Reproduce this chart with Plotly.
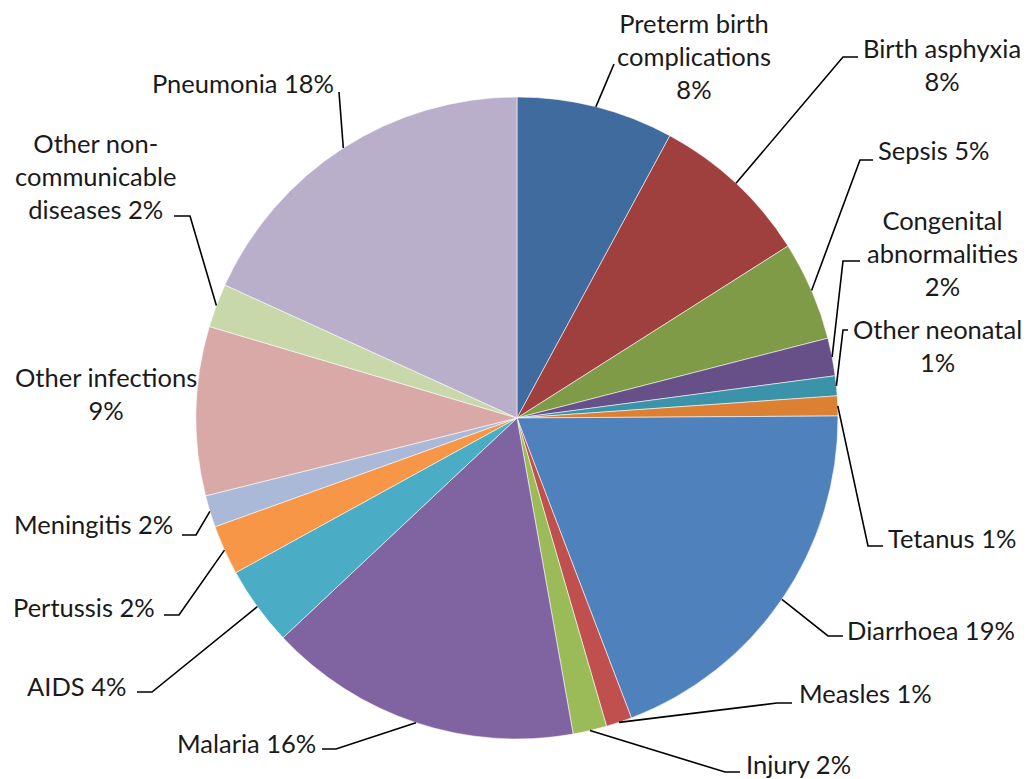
import math
import plotly.graph_objects as go

# ---- data ----
causes = ["Preterm birth complications", "Birth asphyxia", "Sepsis", "Congenital abnormalities",
          "Other neonatal", "Tetanus", "Diarrhoea", "Measles", "Injury", "Malaria", "AIDS",
          "Pertussis", "Meningitis", "Other infections", "Other non-communicable diseases", "Pneumonia"]
shares = [7.9, 8.1, 5.0, 1.9, 1.0, 1.0, 19.3, 1.3, 1.7, 15.8, 4.0, 2.5, 1.6, 8.5, 2.2, 18.2]
label_texts = ["Preterm birth<br>complications<br>8%", "Birth asphyxia<br>8%", "Sepsis 5%",
               "Congenital<br>abnormalities<br>2%", "Other neonatal<br>1%", "Tetanus 1%",
               "Diarrhoea 19%", "Measles 1%", "Injury 2%", "Malaria 16%", "AIDS 4%",
               "Pertussis 2%", "Meningitis 2%", "Other infections<br>9%",
               "Other non-<br>communicable<br>diseases 2%", "Pneumonia 18%"]

# ---- styles / layout ----
colors = ["#3F6B9F", "#A0403E", "#7F9B48", "#674F87", "#3B93AA", "#DC8033", "#4F81BD", "#C0504D",
          "#9BBB59", "#8064A2", "#4BACC6", "#F79646", "#AAB9D7", "#D9A9A8", "#C8D8AA", "#B9AFCA"]
W, H = 1030, 779
CX, CY, R = 517, 418, 321
# label placement: (x px, y px, xanchor)
label_pos = [(694, 56, "center"), (942, 64, "center"), (876, 150, "left"), (942, 253, "center"),
             (937, 345, "center"), (886, 538, "left"), (845, 630, "left"), (797, 693, "left"),
             (744, 764, "left"), (318, 743, "right"), (128, 686, "right"), (157, 607, "right"),
             (175, 524, "right"), (106, 393, "center"), (96, 176, "center"), (336, 83, "right")]
# leader lines: (start, elbow) in px; None = no leader
leaders = [((614, 64), (614, 64)), ((858, 57), (843, 57)), ((873, 160), (860, 160)),
           ((860, 261), (843, 261)), ((848, 330), (843, 330)), ((883, 546), (868, 546)),
           ((843, 636), (828, 636)), ((792, 703), (777, 703)), ((740, 772), (725, 772)),
           ((322, 749), (336, 749)), ((137, 692), (152, 692)), ((164, 615), (179, 615)),
           ((182, 535), (196, 535)), None, ((174, 216), (190, 216)), ((339, 92), (339, 92))]
FONT = "Lato"
FSIZE = 25.5


def px(x):
    return x / W


def py(y):
    return 1 - y / H


fig = go.Figure(go.Pie(
    labels=causes, values=shares, sort=False, direction="clockwise", rotation=0,
    marker=dict(colors=colors, line=dict(color="rgba(255,255,255,0.8)", width=0.7)),
    textinfo="none", hoverinfo="label+percent", showlegend=False,
    domain=dict(x=[px(CX - R), px(CX + R)], y=[py(CY + R), py(CY - R)]),
))

total = sum(shares)
cum = 0.0
shapes = []
annotations = []
for i, v in enumerate(shares):
    mid = (cum + v / 2) / total * 2 * math.pi
    cum += v
    ex = CX + R * math.sin(mid)
    ey = CY - R * math.cos(mid)
    if leaders[i] is not None:
        (sx, sy), (bx, by) = leaders[i]
        shapes.append(dict(type="path", xref="paper", yref="paper",
                           path=f"M {px(sx)} {py(sy)} L {px(bx)} {py(by)} L {px(ex)} {py(ey)}",
                           line=dict(color="#000000", width=1.6)))
    lx, ly, xa = label_pos[i]
    annotations.append(dict(x=px(lx), y=py(ly), xref="paper", yref="paper", text=label_texts[i],
                            showarrow=False, xanchor=xa, yanchor="middle", align="center",
                            font=dict(family=FONT, size=FSIZE, color="#1a1a1a")))

fig.update_layout(width=W, height=H, margin=dict(l=0, r=0, t=0, b=0),
                  paper_bgcolor="white", plot_bgcolor="white",
                  shapes=shapes, annotations=annotations)
fig.write_html("out.html", config={"displayModeBar": False},
               post_script="document.body.style.margin='0px';document.body.style.overflow='hidden';")
